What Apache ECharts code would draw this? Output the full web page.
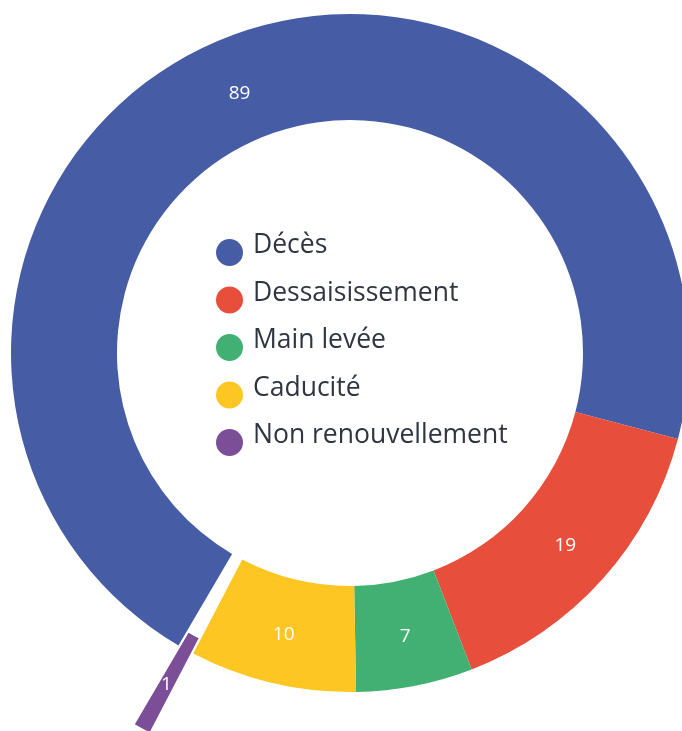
<!DOCTYPE html>
<html>
<head>
<meta charset="utf-8">
<script src="https://cdn.jsdelivr.net/npm/echarts@6/dist/echarts.min.js"></script>
<style>
  html, body { margin: 0; padding: 0; background: #fff; }
  #main { width: 682px; height: 731px; }
</style>
</head>
<body>
<div id="main"></div>
<script>
// motifs de fin
const categories = ['Décès', 'Dessaisissement', 'Main levée', 'Caducité', 'Non renouvellement'];
const values = [89, 19, 7, 10, 1];
const colors = ['#465da6', '#e84e3c', '#42b072', '#fdc623', '#7d4e98'];

const chart = echarts.init(document.getElementById('main'));

// dot sitting a bit lower than the text, with some room before the label
const dotIcon = 'path://M32,0 M0,27.5 A13.5,13.5 0 1,1 27,27.5 A13.5,13.5 0 1,1 0,27.5 Z';

const option = {
  animation: false,
  color: colors,
  legend: {
    orient: 'vertical',
    left: 216,
    top: 225,
    padding: 0,
    icon: dotIcon,
    itemWidth: 32,
    itemHeight: 41,
    itemGap: 6.5,
    textStyle: {
      fontFamily: 'Open Sans',
      fontSize: 26.5,
      color: '#2f3541'
    },
    data: categories
  },
  series: [{
    type: 'pie',
    center: [350, 353],
    radius: [233, 339],
    startAngle: 239.6,
    clockwise: true,
    avoidLabelOverlap: false,
    selectedMode: 'single',
    selectedOffset: 90,
    label: {
      show: true,
      position: 'inside',
      formatter: '{c}',
      color: '#fff',
      fontFamily: 'Open Sans',
      fontSize: 19,
      lineHeight: 19
    },
    labelLine: { show: false },
    emphasis: { scale: false },
    data: categories.map((name, i) => ({
      name: name,
      value: values[i],
      selected: i === 4,
      label: i === 0 ? { formatter: '{t| }\n{c}', rich: { t: { lineHeight: 16, fontSize: 10 } } } : undefined
    }))
  }]
};

chart.setOption(option);
</script>
</body>
</html>
